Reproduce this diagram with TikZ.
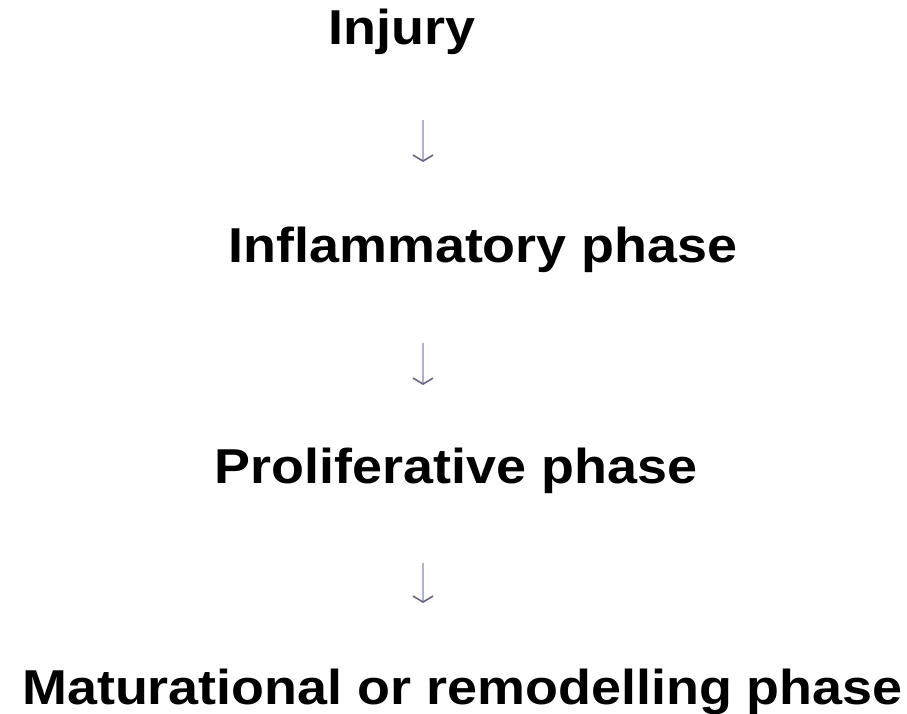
\documentclass[tikz,border=0pt]{standalone}
\usepackage{fontspec}
\usepackage{graphicx}
\setmainfont{Liberation Sans}
\usetikzlibrary{arrows.meta}
\definecolor{arrowline}{RGB}{176,176,214}
\definecolor{arrowhead}{RGB}{110,100,130}
\tikzset{
  phase/.style={inner sep=0pt, anchor=base, font=\fontsize{49}{49}\selectfont\bfseries, text=black},
  flow/.style={draw=arrowline, line width=1.6pt, -{Straight Barb[length=6pt,width=20pt,line width=1.6pt,color=arrowhead]}}
}
\newcommand{\wide}[1]{\scalebox{1.1}[1]{#1}}
\begin{document}
\begin{tikzpicture}[x=1pt,y=1pt]
\useasboundingbox (0,0) rectangle (907,713);
\node[phase] (inj) at (402,668) {\wide{Injury}};
\node[phase] (inf) at (483,450) {\wide{Inflammatory phase}};
\node[phase] (pro) at (456,230) {\wide{Proliferative phase}};
\node[phase] (mat) at (462.5,9) {\wide{Maturational or remodelling phase}};
\coordinate (a1s) at (423,593);
\coordinate (a1e) at (423,551);
\coordinate (a2s) at (423,370);
\coordinate (a2e) at (423,328);
\coordinate (a3s) at (423,150);
\coordinate (a3e) at (423,110);
\draw[flow] (a1s) -- (a1e);
\draw[flow] (a2s) -- (a2e);
\draw[flow] (a3s) -- (a3e);
\end{tikzpicture}
\end{document}
